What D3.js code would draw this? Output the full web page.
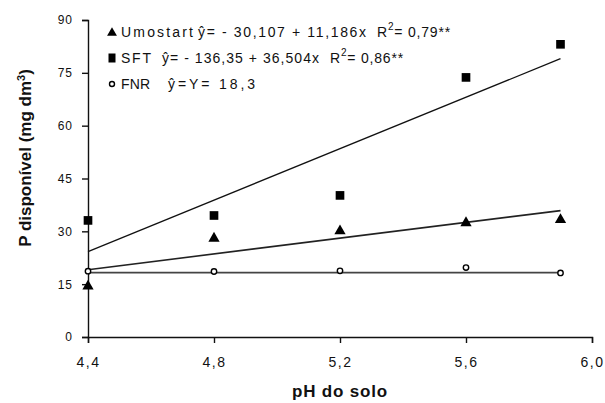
<!DOCTYPE html>
<html lang="pt">
<head>
<meta charset="UTF-8" />
<title>P disponível x pH</title>
<script src="https://d3js.org/d3.v7.min.js"></script>
<style>
  body { margin: 0; background: #fff; }
  text { font-family: "Liberation Sans", Arial, sans-serif; fill: #111; }
</style>
</head>
<body>
<script>
// dados
var phLevels = [4.4, 4.8, 5.2, 5.6, 5.9];
var umostart = [14.4, 28.0, 30.1, 32.4, 33.3];
var sft = [33.1, 34.5, 40.2, 73.7, 83.1];
var fnr = [18.7, 18.6, 18.8, 19.7, 18.2];

// coeficientes das regressoes [a, b]  y = a + b*x
var fitUmostart = [-30.107, 11.186];
var fitSft = [-136.35, 36.504];
var fitFnr = [18.3, 0];

var xTicks = [4.4, 4.8, 5.2, 5.6, 6.0];
var yTicks = [0, 15, 30, 45, 60, 75, 90];

var legendNames = ["Umostart", "SFT", "FNR"];
var legendEqs = ["ŷ= - 30,107 + 11,186x", "ŷ= - 136,35 + 36,504x", "ŷ=Y= 18,3"];
var legendR2 = ["0,79**", "0,86**", ""];

var w = 605, h = 403;
var svg = d3.select("body").append("svg").attr("width", w).attr("height", h);

var x = d3.scaleLinear().domain([4.4, 6.0]).range([88, 592]);
var y = d3.scaleLinear().domain([0, 90]).range([337, 20]);

var comma = function (d) { return d3.format(".1f")(d).replace(".", ","); };

// eixo x
var gx = svg.append("g")
  .attr("transform", "translate(0," + y(0) + ")")
  .call(d3.axisBottom(x).tickValues(xTicks).tickFormat(comma).tickSizeOuter(0).tickSize(6).tickPadding(14));
gx.selectAll("text").style("font-size", "14px").attr("letter-spacing", "1.5px").attr("fill", "#222");

// eixo y
var gy = svg.append("g")
  .attr("transform", "translate(" + x(4.4) + ",0)")
  .call(d3.axisLeft(y).tickValues(yTicks).tickSizeOuter(0).tickSize(6).tickPadding(9));
gy.selectAll("text").style("font-size", "12px").attr("letter-spacing", "1px").attr("fill", "#222");

svg.selectAll(".domain, .tick line").attr("stroke", "#111").attr("stroke-width", 1.4);

// titulos dos eixos
svg.append("text")
  .attr("x", 340).attr("y", 397)
  .attr("text-anchor", "middle")
  .style("font-size", "17px").style("font-weight", "bold")
  .attr("letter-spacing", "0.8px")
  .text("pH do solo");

var yl = svg.append("text")
  .attr("transform", "translate(31,158) rotate(-90)")
  .attr("text-anchor", "middle")
  .style("font-size", "17px").style("font-weight", "bold");
yl.append("tspan").text("P disponível (mg dm");
yl.append("tspan").attr("dy", -6).style("font-size", "11px").text("3");
yl.append("tspan").attr("dy", 6).text(")");

// retas de regressao
var fitLine = function (fit) {
  return d3.line()
    .x(function (d) { return x(d); })
    .y(function (d) { return y(fit[0] + fit[1] * d); })([4.4, 5.9]);
};
svg.append("path").attr("d", fitLine(fitSft)).attr("fill", "none").attr("stroke", "#111").attr("stroke-width", 1.3);
svg.append("path").attr("d", fitLine(fitUmostart)).attr("fill", "none").attr("stroke", "#222").attr("stroke-width", 1.6);
svg.append("path").attr("d", fitLine(fitFnr)).attr("fill", "none").attr("stroke", "#444").attr("stroke-width", 1.8);

// pontos
var tri = d3.symbol().type(d3.symbolTriangle).size(55);
var sq = d3.symbol().type(d3.symbolSquare).size(75);

svg.selectAll(".pt-sft").data(sft).enter().append("path")
  .attr("d", sq)
  .attr("transform", function (d, i) { return "translate(" + x(phLevels[i]) + "," + y(d) + ")"; })
  .attr("fill", "#000");

svg.selectAll(".pt-umo").data(umostart).enter().append("path")
  .attr("d", tri)
  .attr("transform", function (d, i) { return "translate(" + x(phLevels[i]) + "," + y(d) + ")"; })
  .attr("fill", "#000");

svg.selectAll(".pt-fnr").data(fnr).enter().append("circle")
  .attr("cx", function (d, i) { return x(phLevels[i]); })
  .attr("cy", function (d) { return y(d); })
  .attr("r", 2.7)
  .attr("fill", "#fff").attr("stroke", "#000").attr("stroke-width", 1.4);

// legenda
var rowsY = [32, 58, 84];
var nameW = [72, 30, 29];
var eqX = [198, 162, 168];
var eqW = [168, 157, 87];
var r2X = [377, 330, 0];
var lg = svg.append("g").style("font-size", "14px");

lg.append("path").attr("d", d3.symbol().type(d3.symbolTriangle).size(42))
  .attr("transform", "translate(112," + (rowsY[0] + 1) + ")").attr("fill", "#000");
lg.append("rect").attr("x", 108.5).attr("y", rowsY[1] - 4.5).attr("width", 7).attr("height", 9).attr("fill", "#000");
lg.append("circle").attr("cx", 112).attr("cy", rowsY[2]).attr("r", 2.5)
  .attr("fill", "#fff").attr("stroke", "#000").attr("stroke-width", 1.4);

legendNames.forEach(function (name, i) {
  lg.append("text").attr("x", 121).attr("y", rowsY[i] + 5)
    .attr("textLength", nameW[i]).attr("lengthAdjust", "spacing").text(name);
  lg.append("text").attr("x", eqX[i]).attr("y", rowsY[i] + 5)
    .attr("textLength", eqW[i]).attr("lengthAdjust", "spacing").text(legendEqs[i]);
  if (legendR2[i]) {
    var t = lg.append("text").attr("x", r2X[i]).attr("y", rowsY[i] + 5).attr("letter-spacing", "0.8px");
    t.append("tspan").text("R");
    t.append("tspan").attr("dy", -7).style("font-size", "10px").text("2");
    t.append("tspan").attr("dy", 7).text("= " + legendR2[i]);
  }
});
</script>
</body>
</html>
